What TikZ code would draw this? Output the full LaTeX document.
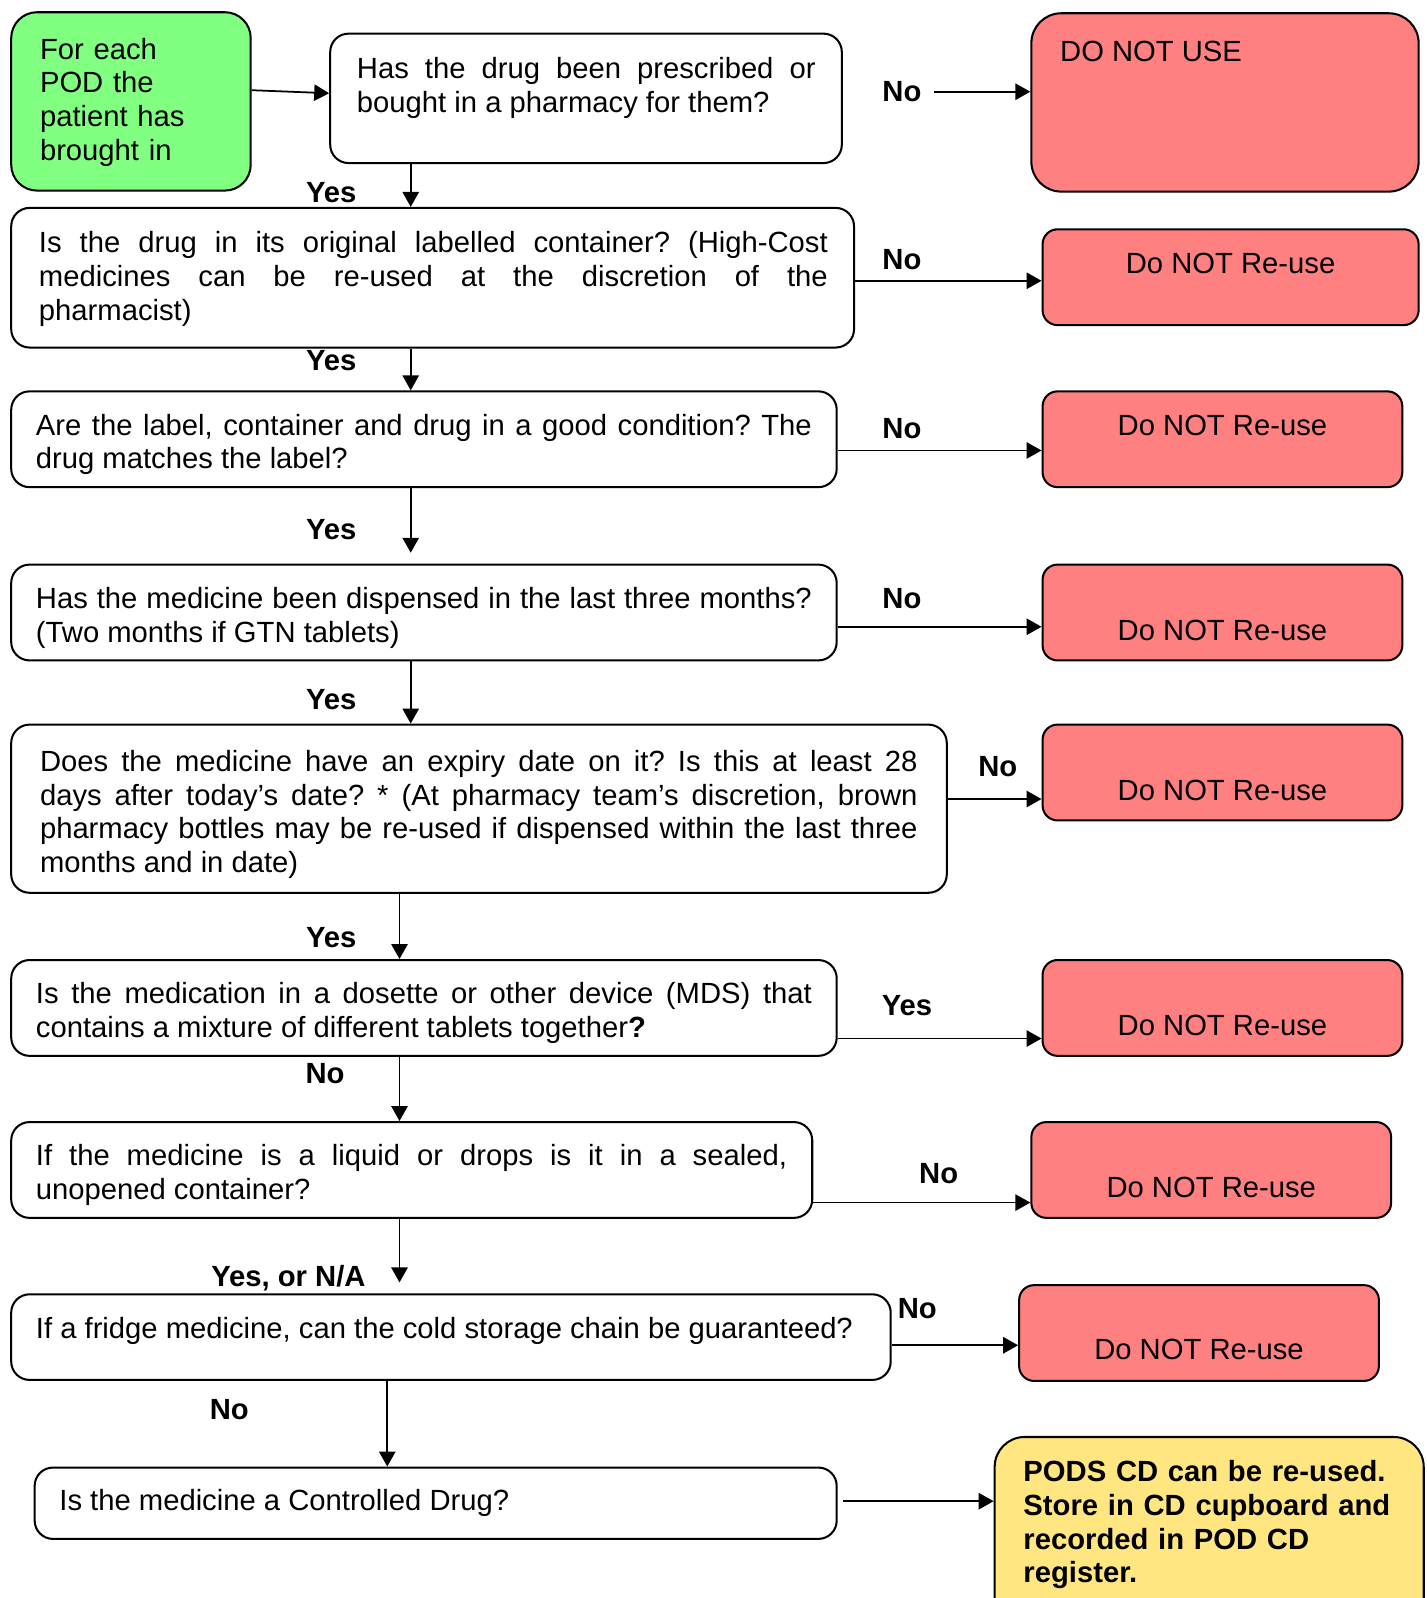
\documentclass[tikz,border=0pt]{standalone}
\usepackage{fontspec}
\setmainfont{Liberation Sans}
\usepackage{tikz}
\usepackage{xcolor}
\usetikzlibrary{arrows.meta,fit,calc}

\definecolor{startgreen}{RGB}{128,255,128}
\definecolor{stopred}{RGB}{255,128,128}
\definecolor{endyellow}{RGB}{255,230,128}
\newcommand{\flowfont}{\fontsize{21.5}{24.75}\selectfont\frenchspacing}

\begin{document}
\begin{tikzpicture}[x=0.75pt,y=0.75pt,yscale=-1,xscale=1,
  box/.style={draw, line width=1.5pt, inner sep=0pt},
  qbox/.style={box, rounded corners=13.5pt},
  redbox/.style={box, fill=stopred, rounded corners=11pt},
  txt/.style={anchor=base west, inner sep=0pt, font=\flowfont},
  redtxt/.style={anchor=base, inner sep=0pt, font=\flowfont},
  lbl/.style={inner sep=0pt, font=\flowfont\bfseries},
  flow/.style={line width=1.3pt, -{Triangle[length=11pt,width=12pt]}}
]
\useasboundingbox (0,0) rectangle (1400,1568);

%Shape: Rounded Rect [start]
\node[box, fill=startgreen, rounded corners=19pt, fit={(11,12) (246,187)}] (start) {};
%Shape: Rounded Rect [questions]
\node[qbox, fit={(324,33) (826,160)}] (q1) {};
\node[qbox, fit={(11,204) (838,341)}] (q2) {};
\node[qbox, fit={(11,384) (821,478)}] (q3) {};
\node[qbox, fit={(11,554) (821,648)}] (q4) {};
\node[qbox, fit={(11,711) (929,876)}] (q5) {};
\node[qbox, fit={(11,942) (821,1036)}] (q6) {};
\node[qbox, fit={(11,1101) (797,1195)}] (q7) {};
\node[qbox, fit={(11,1270) (874,1354)}] (q8) {};
\node[qbox, fit={(34,1440) (821,1510)}] (q9) {};
%Shape: Rounded Rect [outcomes]
\node[redbox, rounded corners=22pt, fit={(1012,13) (1392,188)}] (r1) {};
\node[redbox, fit={(1023,225) (1392,319)}] (r2) {};
\node[redbox, fit={(1023,384) (1376,478)}] (r3) {};
\node[redbox, fit={(1023,554) (1376,648)}] (r4) {};
\node[redbox, fit={(1023,711) (1376,805)}] (r5) {};
\node[redbox, fit={(1023,942) (1376,1036)}] (r6) {};
\node[redbox, fit={(1012,1101) (1365,1195)}] (r7) {};
\node[redbox, fit={(1000,1261) (1353,1355)}] (r8) {};
\node[box, fill=endyellow, rounded corners=22pt, fit={(976,1410) (1397,1640)}] (cd) {};

% Text Node
\node[txt, text width=150pt, align=left] (startt) at (39,58) {For each\\POD the\\patient has\\brought in};
% Text Node
\node[txt, text width=337.5pt, align=justify] (q1t) at (350,77) {Has the drug been prescribed or\linebreak bought in a pharmacy for them?};
% Text Node
\node[txt, text width=580.5pt, align=justify] (q2t) at (38,248) {Is the drug in its original labelled container? (High-Cost\linebreak medicines can be re-used at the discretion of the\linebreak pharmacist)};
% Text Node
\node[txt, text width=571pt, align=justify] (q3t) at (35,427) {Are the label, container and drug in a good condition? The\linebreak drug matches the label?};
% Text Node
\node[txt, text width=571pt, align=justify] (q4t) at (35,597) {Has the medicine been dispensed in the last three months?\linebreak (Two months if GTN tablets)};
% Text Node
\node[txt, text width=645.75pt, align=justify] (q5t) at (39,757) {Does the medicine have an expiry date on it? Is this at least 28\linebreak days after today’s date? * (At pharmacy team’s discretion, brown\linebreak pharmacy bottles may be re-used if dispensed within the last three\linebreak months and in date)};
% Text Node
\node[txt, text width=571pt, align=justify] (q6t) at (35,985) {Is the medication in a dosette or other device (MDS) that\linebreak contains a mixture of different tablets together\textbf{?}};
% Text Node
\node[txt, text width=552.75pt, align=justify] (q7t) at (35,1144) {If the medicine is a liquid or drops is it in a sealed,\linebreak unopened container?};
% Text Node
\node[txt] (q8t) at (35,1313) {If a fridge medicine, can the cold storage chain be guaranteed?};
% Text Node
\node[txt] (q9t) at (58,1482) {Is the medicine a Controlled Drug?};
% Text Node
\node[txt] (r1t) at (1040,60) {DO NOT USE};
\node[redtxt] (r2t) at (1207.5,268) {Do NOT Re-use};
\node[redtxt] (r3t) at (1199.5,427) {Do NOT Re-use};
\node[redtxt] (r4t) at (1199.5,628) {Do NOT Re-use};
\node[redtxt] (r5t) at (1199.5,785) {Do NOT Re-use};
\node[redtxt] (r6t) at (1199.5,1016) {Do NOT Re-use};
\node[redtxt] (r7t) at (1188.5,1175) {Do NOT Re-use};
\node[redtxt] (r8t) at (1176.5,1334) {Do NOT Re-use};
% Text Node
\node[txt, text width=300pt, align=left, font=\flowfont\bfseries] (cdt) at (1004,1454) {PODS CD can be re-used.\\Store in CD cupboard and\\recorded in POD CD\\register.};

% Text Node [answers]
\node[lbl] (no1) at (885,90) {No};
\node[lbl] (yes1) at (325,189) {Yes};
\node[lbl] (no2) at (885,255) {No};
\node[lbl] (yes2) at (325,354) {Yes};
\node[lbl] (no3) at (885,421) {No};
\node[lbl] (yes3) at (325,520) {Yes};
\node[lbl] (no4) at (885,587) {No};
\node[lbl] (yes4) at (325,686) {Yes};
\node[lbl] (no5) at (979,752) {No};
\node[lbl] (yes5) at (325,920) {Yes};
\node[lbl] (yes6) at (890,987) {Yes};
\node[lbl] (no6) at (319,1053) {No};
\node[lbl] (no7) at (921,1152) {No};
\node[lbl] (yes7) at (283,1254) {Yes, or N/A};
\node[lbl] (no8) at (900,1284) {No};
\node[lbl] (no9) at (225,1383) {No};

%Straight Lines [down the chain]
\coordinate (colA) at (403,0);
\coordinate (colB) at (392,0);
\coordinate (colC) at (380,0);
\draw[flow] ($(start.east)+(0,-11)$) -- ($(q1.west)+(0,-5)$);
\draw[flow] (q1.south -| colA) -- (q2.north -| colA);
\draw[flow] (q2.south -| colA) -- (q3.north -| colA);
\draw[flow, shorten >=8pt] (q3.south -| colA) -- (q4.north -| colA);
\draw[flow] (q4.south -| colA) -- (q5.north -| colA);
\draw[flow] (q5.south -| colB) -- (q6.north -| colB);
\draw[flow] (q6.south -| colB) -- (q7.north -| colB);
\draw[flow, shorten >=8pt] (q7.south -| colB) -- (q8.north -| colB);
\draw[flow] (q8.south -| colC) -- (q9.north -| colC);

%Straight Lines [to the outcomes]
\coordinate (h2) at ($(q2.east)+(0,3)$);
\coordinate (h3) at ($(q3.east)+(0,11)$);
\coordinate (h4) at ($(q4.east)+(0,14)$);
\coordinate (h5) at ($(q5.east)+(0,-9.5)$);
\coordinate (h6) at ($(q6.east)+(0,30)$);
\coordinate (h7) at ($(q7.east)+(0,32)$);
\coordinate (h8) at ($(q8.east)+(0,8)$);
\coordinate (h9) at ($(q9.east)+(5,-2)$);
\draw[flow] ($(no1.east)+(12,0)$) -- (no1.east -| r1.west);
\draw[flow] (h2) -- (h2 -| r2.west);
\draw[flow] (h3) -- (h3 -| r3.west);
\draw[flow] (h4) -- (h4 -| r4.west);
\draw[flow] (h5) -- (h5 -| r5.west);
\draw[flow] (h6) -- (h6 -| r6.west);
\draw[flow] (h7) -- (h7 -| r7.west);
\draw[flow] (h8) -- (h8 -| r8.west);
\draw[flow] (h9) -- (h9 -| cd.west);

\end{tikzpicture}
\end{document}
